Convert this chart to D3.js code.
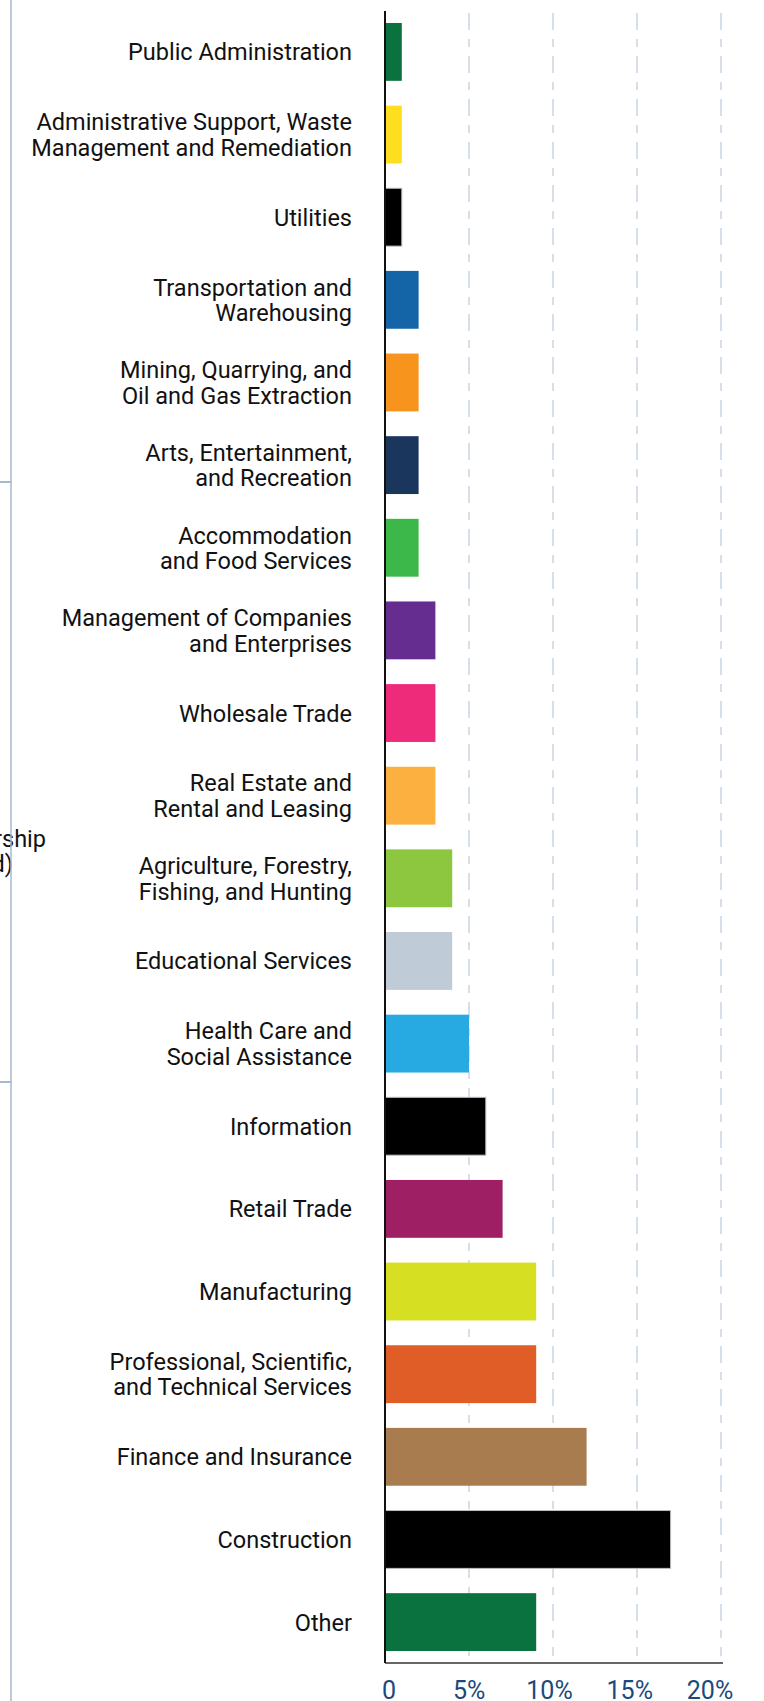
<!DOCTYPE html>
<html><head><meta charset="utf-8">
<script src="https://cdn.jsdelivr.net/npm/d3@7"></script>
<style>html,body{margin:0;padding:0;background:#fff;} svg{display:block;}</style>
</head><body>
<svg id="chart" width="764" height="1701"></svg>
<script>
const categories = [
  "Public Administration",
  "Administrative Support, Waste\nManagement and Remediation",
  "Utilities",
  "Transportation and\nWarehousing",
  "Mining, Quarrying, and\nOil and Gas Extraction",
  "Arts, Entertainment,\nand Recreation",
  "Accommodation\nand Food Services",
  "Management of Companies\nand Enterprises",
  "Wholesale Trade",
  "Real Estate and\nRental and Leasing",
  "Agriculture, Forestry,\nFishing, and Hunting",
  "Educational Services",
  "Health Care and\nSocial Assistance",
  "Information",
  "Retail Trade",
  "Manufacturing",
  "Professional, Scientific,\nand Technical Services",
  "Finance and Insurance",
  "Construction",
  "Other"
];
const values = [1, 1, 1, 2, 2, 2, 2, 3, 3, 3, 4, 4, 5, 6, 7, 9, 9, 12, 17, 9];
const colors = ["#0a723e", "#ffdd1f", "#000000", "#1465a8", "#f7941d", "#1b365d", "#3cb84a",
  "#662d91", "#ee2a7b", "#fbb040", "#8dc63f", "#bfcbd6", "#27aae1", "#000000", "#9e1f63",
  "#d7df23", "#e05d28", "#a97c50", "#000000", "#0a723e"];
const xTicks = [0, 5, 10, 15, 20];
const tickLabels = ["0", "5%", "10%", "15%", "20%"];
const sideLabels = ["Ownership", "(Estimated)"];

const svg = d3.select("#chart");
const FONT = "Roboto, 'Noto Sans', sans-serif";

// left bracket fragment
svg.append("g").selectAll("text").data(sideLabels).join("text")
  .attr("x", (d, i) => i === 0 ? 46 : 13)
  .attr("y", (d, i) => 847 + i * 25)
  .attr("text-anchor", "end")
  .attr("font-family", FONT).attr("font-size", 23.5).attr("fill", "#111")
  .text(d => d);
svg.append("line").attr("x1", 11).attr("x2", 11).attr("y1", 0).attr("y2", 1701)
  .attr("stroke", "#a6b9cc").attr("stroke-width", 1.5);
svg.append("g").selectAll("line").data([482, 1082]).join("line")
  .attr("x1", 0).attr("x2", 11).attr("y1", d => d).attr("y2", d => d)
  .attr("stroke", "#a6b9cc").attr("stroke-width", 2);

const x = d3.scaleLinear().domain([0, 20]).range([385, 721]);
const xLab = d3.scaleLinear().domain([0, 20]).range([389, 710]);
const y = d3.scaleBand().domain(categories).range([11, 1663]).paddingInner(0.3).paddingOuter(0.145);

// gridlines
svg.append("g").selectAll("line").data(xTicks.slice(1)).join("line")
  .attr("x1", d => x(d)).attr("x2", d => x(d))
  .attr("y1", 13).attr("y2", 1656)
  .attr("stroke", "#c9d6e3").attr("stroke-width", 1.5)
  .attr("stroke-dasharray", "17,9,8,9");

// bars
svg.append("g").selectAll("rect").data(categories).join("rect")
  .attr("x", x(0))
  .attr("y", d => y(d))
  .attr("width", (d, i) => x(values[i]) - x(0))
  .attr("height", y.bandwidth())
  .attr("fill", (d, i) => colors[i])
  .attr("stroke", (d, i) => colors[i] === "#000000" ? "#bdbdbd" : "none")
  .attr("stroke-width", 1);

// category labels
const lab = svg.append("g").selectAll("text").data(categories).join("text")
  .attr("text-anchor", "end")
  .attr("font-family", FONT).attr("font-size", 23.5).attr("fill", "#111");
lab.each(function(d) {
  const lines = d.split("\n");
  const cy = y(d) + y.bandwidth() / 2;
  const lh = 25.5;
  const t = d3.select(this);
  lines.forEach((ln, j) => {
    t.append("tspan").attr("x", 352)
      .attr("y", cy + (j - (lines.length - 1) / 2) * lh + 8.5)
      .text(ln);
  });
});

// axes
svg.append("line").attr("x1", x(0)).attr("x2", 723).attr("y1", 1663).attr("y2", 1663)
  .attr("stroke", "#333").attr("stroke-width", 1.5);
svg.append("line").attr("x1", x(0)).attr("x2", x(0)).attr("y1", 11).attr("y2", 1663)
  .attr("stroke", "#111").attr("stroke-width", 2);

svg.append("g").selectAll("text").data(xTicks).join("text")
  .attr("x", d => xLab(d)).attr("y", 1699)
  .attr("text-anchor", "middle")
  .attr("font-family", FONT).attr("font-size", 25).attr("fill", "#1a4a7c")
  .text((d, i) => tickLabels[i]);
</script>
</body></html>
